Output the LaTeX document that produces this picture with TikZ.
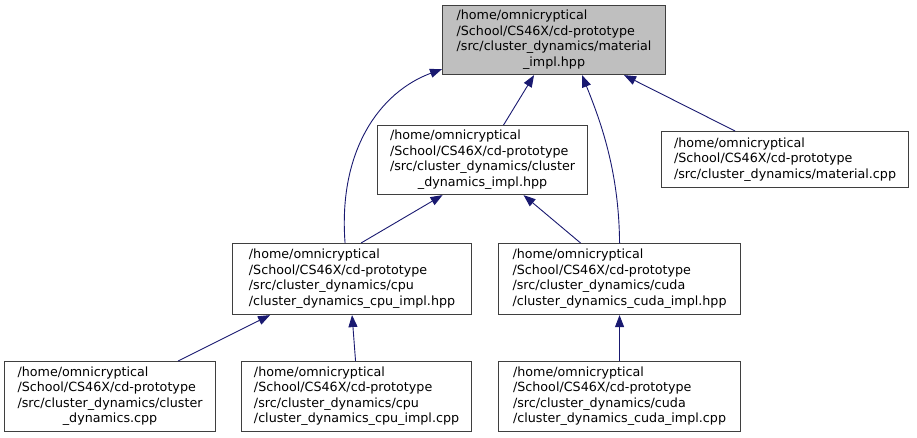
\documentclass[tikz,border=0pt]{standalone}
\usepackage{fontspec}
\setmainfont{DejaVu Sans}
\usepackage{xcolor}
\definecolor{edge}{HTML}{191970}
\definecolor{frame}{HTML}{3F3F3F}
\definecolor{sel}{HTML}{BFBFBF}
\usepackage{tikz}
\usetikzlibrary{arrows.meta}
\newcommand{\fname}[1]{\begin{tabular}{@{}l@{}}#1\end{tabular}}
\newcommand{\tailc}[1]{\multicolumn{1}{@{}c@{}}{#1}}
\tikzset{
  >={Triangle[length=12pt,width=9pt]},
  font=\fontsize{12.7}{15.5}\selectfont,
  file/.style={draw=frame,line width=1.1pt,fill=white,anchor=north west,inner sep=0pt},
  cur/.style={file,fill=sel},
  inc/.style={<-,draw=edge,line width=0.9pt},
}

\begin{document}
\begin{tikzpicture}[x=1pt,y=-1pt]
  \useasboundingbox (0,0) rectangle (917,437);
  \node[cur,minimum width=223,minimum height=69] (mat) at (442,5)
    {\fname{/home/omnicryptical\\/School/CS46X/cd-prototype\\/src/cluster\_dynamics/material\\\tailc{\_impl.hpp}}};
  \node[file,minimum width=210,minimum height=69] (cdi) at (377,125)
    {\fname{/home/omnicryptical\\/School/CS46X/cd-prototype\\/src/cluster\_dynamics/cluster\\\tailc{\_dynamics\_impl.hpp}}};
  \node[file,minimum width=247,minimum height=56] (mcpp) at (661,131)
    {\fname{/home/omnicryptical\\/School/CS46X/cd-prototype\\/src/cluster\_dynamics/material.cpp}};
  \node[file,minimum width=239,minimum height=71] (cpuh) at (232,243)
    {\fname{/home/omnicryptical\\/School/CS46X/cd-prototype\\/src/cluster\_dynamics/cpu\\/cluster\_dynamics\_cpu\_impl.hpp}};
  \node[file,minimum width=242,minimum height=71] (cudah) at (498,243)
    {\fname{/home/omnicryptical\\/School/CS46X/cd-prototype\\/src/cluster\_dynamics/cuda\\/cluster\_dynamics\_cuda\_impl.hpp}};
  \node[file,minimum width=211,minimum height=70] (cdcpp) at (4,361)
    {\fname{/home/omnicryptical\\/School/CS46X/cd-prototype\\/src/cluster\_dynamics/cluster\\\tailc{\_dynamics.cpp}}};
  \node[file,minimum width=230,minimum height=70] (cpuc) at (241,361)
    {\fname{/home/omnicryptical\\/School/CS46X/cd-prototype\\/src/cluster\_dynamics/cpu\\/cluster\_dynamics\_cpu\_impl.cpp}};
  \node[file,minimum width=242,minimum height=70] (cudac) at (498,361)
    {\fname{/home/omnicryptical\\/School/CS46X/cd-prototype\\/src/cluster\_dynamics/cuda\\/cluster\_dynamics\_cuda\_impl.cpp}};

  \draw[inc] ([xshift=-20]mat.south) -- ([xshift=21]cdi.north);
  \draw[inc] ([yshift=6]mat.south west) .. controls (380,92) and (338,150) .. ([xshift=-7]cpuh.north);
  \draw[inc] ([xshift=28]mat.south) .. controls (600,120) and (619,170) .. (cudah.north);
  \draw[inc] ([xshift=70]mat.south) -- ([xshift=-50]mcpp.north);
  \draw[inc] ([xshift=-40]cdi.south) -- ([xshift=9]cpuh.north);
  \draw[inc] ([xshift=41]cdi.south) -- ([xshift=-39]cudah.north);
  \draw[inc] ([xshift=-82]cpuh.south) -- ([xshift=68]cdcpp.north);
  \draw[inc] (cpuh.south) -- ([xshift=-1]cpuc.north);
  \draw[inc] (cudah.south) -- (cudac.north);
\end{tikzpicture}
\end{document}
